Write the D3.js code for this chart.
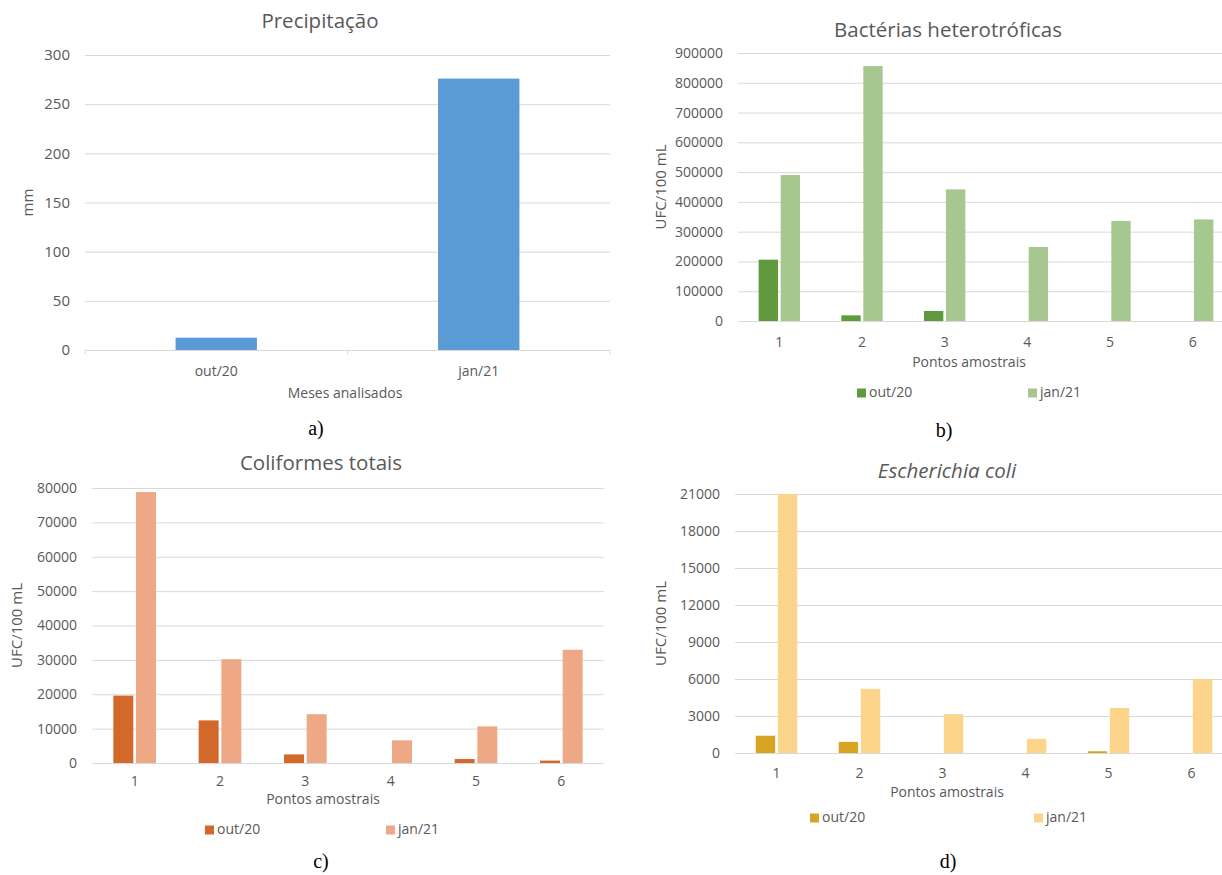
<!DOCTYPE html>
<html>
<head>
<meta charset="utf-8">
<script src="https://cdn.jsdelivr.net/npm/d3@7"></script>
<style>
  body { margin: 0; background: #fff; }
  text { font-family: "Open Sans", Lato, sans-serif; fill: #595959; }
  .caption { font-family: "Liberation Serif", "Times New Roman", serif; fill: #000; }
</style>
</head>
<body>
<div class="chart"></div>
<script>
// dados
const meses = ['out/20', 'jan/21']
const precipitacao = [12.5, 276]
const pontos = ['1', '2', '3', '4', '5', '6']
const series = ['out/20', 'jan/21']

const bactOut = [206000, 19000, 33600, 0, 0, 0]
const bactJan = [490000, 856000, 442000, 248500, 336000, 341000]
const coliOut = [19600, 12400, 2500, 0, 1150, 700]
const coliJan = [78800, 30200, 14200, 6600, 10650, 32950]
const ecoliOut = [1400, 900, 0, 0, 140, 0]
const ecoliJan = [21000, 5200, 3150, 1150, 3650, 6000]

const ticksPrec = [0, 50, 100, 150, 200, 250, 300]
const ticksBact = [0, 100000, 200000, 300000, 400000, 500000, 600000, 700000, 800000, 900000]
const ticksColi = [0, 10000, 20000, 30000, 40000, 50000, 60000, 70000, 80000]
const ticksEcoli = [0, 3000, 6000, 9000, 12000, 15000, 18000, 21000]

const svg = d3.select('.chart')
  .append('svg')
    .attr('width', 1222)
    .attr('height', 875)

const panels = [
  {
    title: 'Precipitação', titleX: 320, titleY: 23,
    x0: 85, x1: 610, y0: 55, y1: 350,
    cats: meses, values: [precipitacao], colors: ['#5b9bd5'],
    ticks: ticksPrec, tickSize: 15, yLabel: 'mm', yLabelX: 29,
    xTitle: 'Meses analisados', xTitleX: 345, xTickY: 372, xTitleY: 394,
    group: 0.31, catTicks: true,
    caption: 'a)', capX: 316, capY: 430
  },
  {
    title: 'Bactérias heterotróficas', titleX: 948, titleY: 32,
    x0: 738, x1: 1234, y0: 53, y1: 321,
    cats: pontos, values: [bactOut, bactJan], colors: ['#5f9a3c', '#a6c78f'],
    ticks: ticksBact, tickSize: 14, yLabel: 'UFC/100 mL', yLabelX: 662,
    xTitle: 'Pontos amostrais', xTitleX: 969, xTickY: 343, xTitleY: 363,
    group: 0.5, legendY: 393, legendX: [857, 1028],
    caption: 'b)', capX: 944, capY: 432
  },
  {
    title: 'Coliformes totais', titleX: 321, titleY: 465,
    x0: 92, x1: 604, y0: 488, y1: 763,
    cats: pontos, values: [coliOut, coliJan], colors: ['#d2692b', '#eea886'],
    ticks: ticksColi, tickSize: 14, yLabel: 'UFC/100 mL', yLabelX: 18,
    xTitle: 'Pontos amostrais', xTitleX: 323, xTickY: 782, xTitleY: 800,
    group: 0.5, legendY: 830, legendX: [205, 386],
    caption: 'c)', capX: 321, capY: 863
  },
  {
    title: 'Escherichia coli', titleX: 947, titleY: 473, italic: true,
    x0: 735, x1: 1233, y0: 494, y1: 753,
    cats: pontos, values: [ecoliOut, ecoliJan], colors: ['#d7a522', '#fcd48c'],
    ticks: ticksEcoli, tickSize: 14, yLabel: 'UFC/100 mL', yLabelX: 662,
    xTitle: 'Pontos amostrais', xTitleX: 947, xTickY: 774, xTitleY: 793,
    group: 0.5, legendY: 818, legendX: [810, 1034],
    caption: 'd)', capX: 948, capY: 863
  }
]

panels.forEach(drawPanel)

function drawPanel(p) {
  const g = svg.append('g')

  const yScale = d3.scaleLinear()
    .domain([0, d3.max(p.ticks)])
    .range([p.y1, p.y0])

  const xScale = d3.scaleBand()
    .domain(p.cats)
    .range([p.x0, p.x1])

  const bw = xScale.bandwidth()
  const sub = d3.scaleBand()
    .domain(d3.range(p.values.length))
    .range([bw * (1 - p.group) / 2, bw * (1 + p.group) / 2])
    .paddingInner(p.values.length > 1 ? 0.12 : 0)

  // linhas de grade + rótulos do eixo y
  const yAxis = d3.axisLeft(yScale)
    .tickValues(p.ticks)
    .tickFormat(d3.format('d'))
    .tickSize(-(p.x1 - p.x0))
    .tickPadding(15)
  g.append('g')
      .attr('transform', `translate(${p.x0}, 0)`)
    .call(yAxis)
    .call(a => a.select('.domain').remove())
    .call(a => a.selectAll('line').attr('stroke', '#d9d9d9'))
    .call(a => a.selectAll('text')
      .attr('font-family', null)
      .style('font-size', p.tickSize + 'px').attr('fill', '#595959'))

  if (p.catTicks) {
    g.selectAll('.cattick')
      .data(p.cats.concat(['end']))
      .enter()
      .append('line')
        .attr('x1', (d, i) => p.x0 + i * bw)
        .attr('x2', (d, i) => p.x0 + i * bw)
        .attr('y1', p.y1)
        .attr('y2', p.y1 + 4)
        .attr('stroke', '#d9d9d9')
  }

  // barras
  p.values.forEach((vals, s) => {
    g.selectAll(`.bar${s}`)
      .data(vals.map((v, i) => ({cat: p.cats[i], v})))
      .enter()
      .append('rect')
        .attr('x', d => xScale(d.cat) + sub(s))
        .attr('width', sub.bandwidth())
        .attr('y', d => yScale(d.v))
        .attr('height', d => p.y1 - yScale(d.v))
        .attr('fill', p.colors[s])
  })

  // rótulos do eixo x
  g.selectAll('.xlab')
    .data(p.cats)
    .enter()
    .append('text')
      .attr('x', d => xScale(d) + bw / 2)
      .attr('y', p.xTickY)
      .attr('text-anchor', 'middle')
      .attr('dominant-baseline', 'middle')
      .style('font-size', '14px')
      .text(d => d)

  g.append('text')
    .attr('x', p.xTitleX)
    .attr('y', p.xTitleY)
    .attr('text-anchor', 'middle')
    .attr('dominant-baseline', 'middle')
    .style('font-size', '14px')
    .text(p.xTitle)

  g.append('text')
    .attr('transform', `translate(${p.yLabelX}, ${(p.y0 + p.y1) / 2}) rotate(-90)`)
    .attr('text-anchor', 'middle')
    .attr('dominant-baseline', 'middle')
    .style('font-size', '15px')
    .text(p.yLabel)

  g.append('text')
    .attr('x', p.titleX)
    .attr('y', p.titleY)
    .attr('text-anchor', 'middle')
    .attr('dominant-baseline', 'middle')
    .style('font-size', '20.5px')
    .style('font-style', p.italic ? 'italic' : 'normal')
    .text(p.title)

  // legenda
  if (p.legendX) {
    const leg = g.selectAll('.leg')
      .data(series)
      .enter()
      .append('g')
        .attr('transform', (d, i) => `translate(${p.legendX[i]}, ${p.legendY})`)
    leg.append('rect')
      .attr('x', 0).attr('y', -4.5)
      .attr('width', 9).attr('height', 9)
      .attr('fill', (d, i) => p.colors[i])
    leg.append('text')
      .attr('x', 12)
      .attr('dominant-baseline', 'middle')
      .style('font-size', '14px')
      .text(d => d)
  }

  g.append('text')
    .attr('class', 'caption')
    .attr('x', p.capX)
    .attr('y', p.capY)
    .attr('text-anchor', 'middle')
    .attr('dominant-baseline', 'middle')
    .style('font-size', '20px')
    .text(p.caption)
}
</script>
</body>
</html>
